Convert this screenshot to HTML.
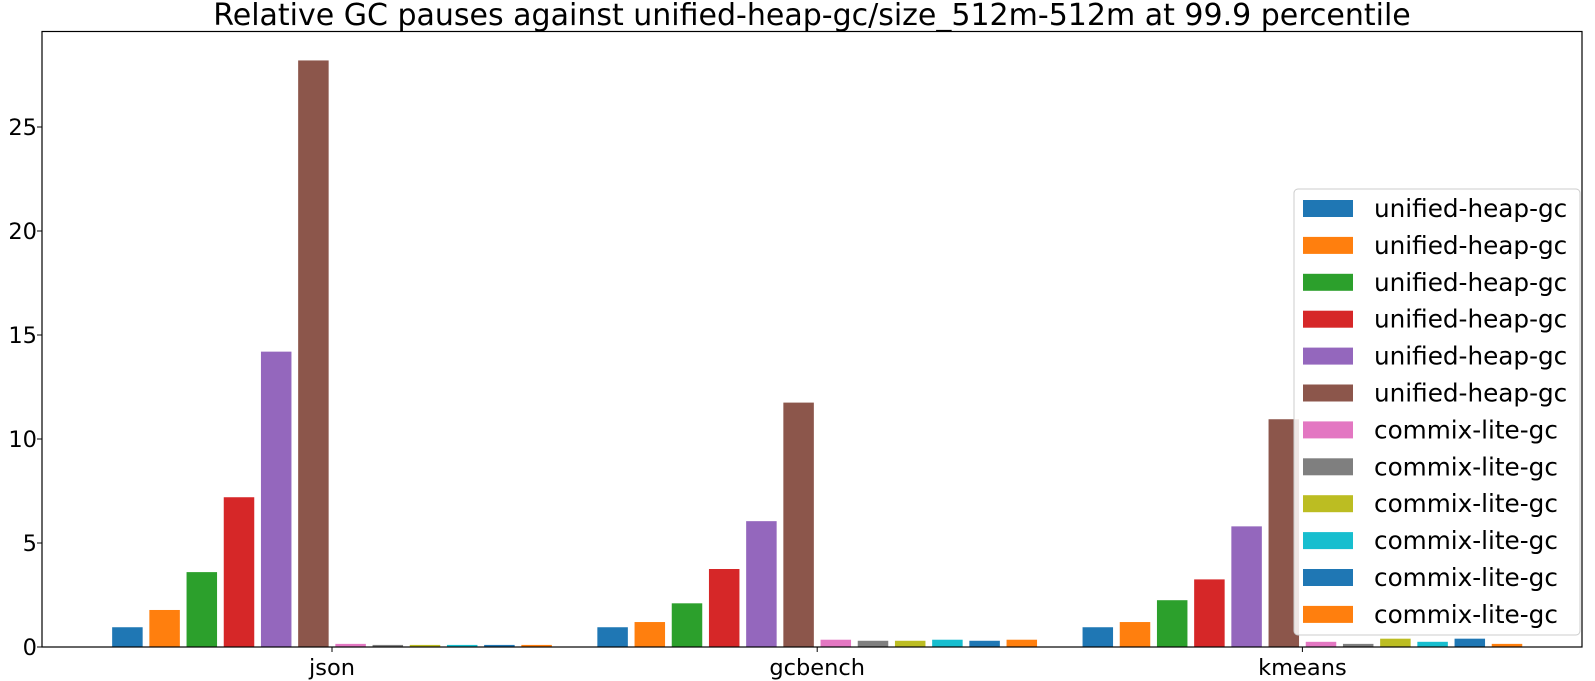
<!DOCTYPE html>
<html><head><meta charset="utf-8"><style>
body{margin:0;background:#fff;}
svg{display:block;font-family:"DejaVu Sans","Liberation Sans",sans-serif;}
</style></head><body>
<svg id="chart" width="1595" height="681">
<text x="812" y="25" text-anchor="middle" font-size="30" fill="#000">Relative GC pauses against unified-heap-gc/size_512m-512m at 99.9 percentile</text>
<g id="bars"></g>
<g id="axes"></g>
<g id="legend"></g>
</svg>
<script>
const categories = ["json","gcbench","kmeans"];
const seriesNames = ["unified-heap-gc","unified-heap-gc","unified-heap-gc","unified-heap-gc","unified-heap-gc","unified-heap-gc","commix-lite-gc","commix-lite-gc","commix-lite-gc","commix-lite-gc","commix-lite-gc","commix-lite-gc"];
const seriesColors = ["#1f77b4","#ff7f0e","#2ca02c","#d62728","#9467bd","#8c564b","#e377c2","#7f7f7f","#bcbd22","#17becf","#1f77b4","#ff7f0e"];
const jsonValues = [0.95,1.78,3.6,7.2,14.2,28.2,0.15,0.1,0.1,0.1,0.1,0.1];
const gcbenchValues = [0.95,1.2,2.1,3.75,6.05,11.75,0.35,0.3,0.3,0.35,0.3,0.35];
const kmeansValues = [0.95,1.2,2.25,3.25,5.8,10.95,0.25,0.15,0.4,0.25,0.4,0.15];
const yTicks = [0,5,10,15,20,25];

const values = [jsonValues,gcbenchValues,kmeansValues];
const NS="http://www.w3.org/2000/svg";
const L=42,R=1582,T=31.5,B=647;
const yScale=v=>B-v*(B-127)/25;
const groupCenter=i=>332+i*485.2;
const step=37.2,bw=30.5;
const barX=(g,s)=>groupCenter(g)+(s-5.5)*step-bw/2;
function mk(tag,attrs,parent){const e=document.createElementNS(NS,tag);for(const k in attrs)e.setAttribute(k,attrs[k]);parent.appendChild(e);return e;}
const bars=document.getElementById('bars');
values.forEach((arr,g)=>{arr.forEach((v,s)=>{
  const r=mk('rect',{x:barX(g,s),y:yScale(v),width:bw,height:B-yScale(v),fill:seriesColors[s]},bars);
  
  
});});
const axes=document.getElementById('axes');
const frame=mk('rect',{x:L,y:T,width:R-L,height:B-T,fill:'none',stroke:'#000','stroke-width':1.2},axes);


yTicks.forEach(t=>{
  const y=yScale(t);
  mk('line',{x1:L-5,x2:L,y1:y,y2:y,stroke:'#000'},axes);
  const tx=mk('text',{x:L-5,y:y+8,'text-anchor':'end','font-size':22.5},axes);
  tx.textContent=t;
  
  
});
categories.forEach((c,i)=>{
  const x=groupCenter(i);
  mk('line',{x1:x,x2:x,y1:B,y2:B+5,stroke:'#000'},axes);
  const tx=mk('text',{x:x,y:B+28,'text-anchor':'middle','font-size':22.5},axes);
  tx.textContent=c;
  
  
});
const lg=document.getElementById('legend');


mk('rect',{x:1294,y:189,width:286,height:446,rx:4,fill:'#fff','fill-opacity':0.85,stroke:'#ccc'},lg);
seriesNames.forEach((n,i)=>{
  const y=208.5+i*36.9;
  const p=mk('rect',{x:1303,y:y-8.5,width:50,height:17,fill:seriesColors[i]},lg);
  
  
  const t=mk('text',{x:1374,y:y+8.5,'font-size':24.7},lg);
  t.textContent=n;
  
  
});
</script>
</body></html>
